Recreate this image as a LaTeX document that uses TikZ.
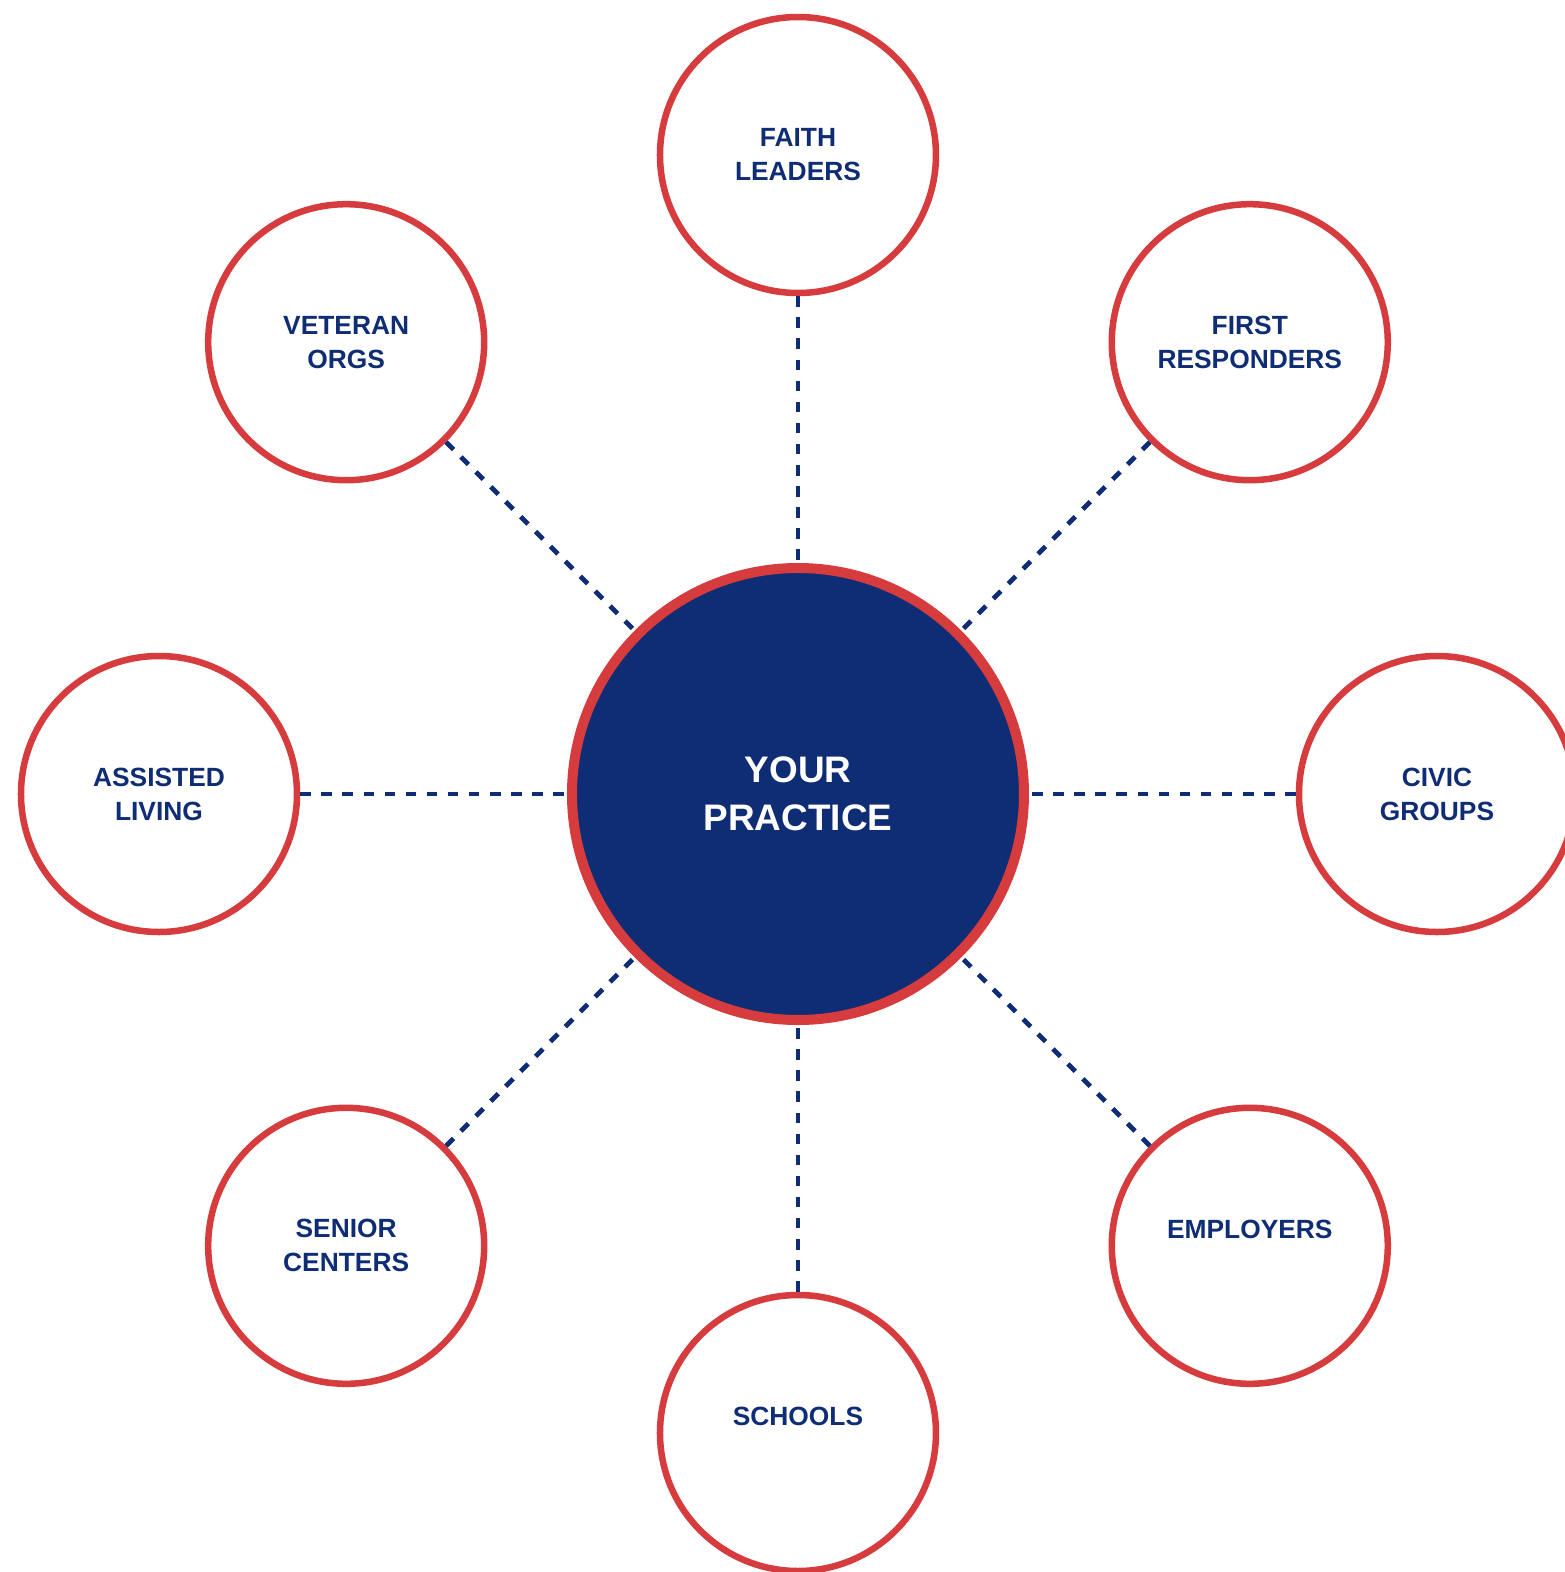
\documentclass[tikz,border=0pt]{standalone}
\usepackage{fontspec}
\setmainfont{Liberation Sans}
\usepackage{xcolor}
\definecolor{ringred}{HTML}{D63B3D}
\definecolor{navy}{HTML}{0F2D74}

\tikzset{
  partner/.style={circle, draw=ringred, line width=1.85pt, fill=white,
    minimum size=2.76cm, inner sep=0pt, align=center, text=navy,
    font=\fontsize{7.5}{9.67}\selectfont\bfseries},
  hub/.style={circle, draw=ringred, line width=2.85pt, fill=navy,
    minimum size=4.52cm, inner sep=0pt, align=center, text=white,
    font=\fontsize{10.5}{13.65}\selectfont\bfseries},
  link/.style={draw=navy, line width=1.4pt, dash pattern=on 3pt off 3pt}
}

\begin{document}
\begin{tikzpicture}[line cap=butt,line join=round,x=1.0cm,y=1.0cm]
\clip (-7.98,-7.78) rectangle (7.67,7.94);
% hub
\node[hub] (practice) at (0,0) {YOUR\\PRACTICE};
% partners round the hub
\node[partner] (faith) at (0,6.39) {FAITH\\LEADERS};
\node[partner] (first) at (4.518,4.518) {FIRST\\RESPONDERS};
\node[partner] (civic) at (6.39,0) {CIVIC\\GROUPS};
\node[partner] (employers) at (4.518,-4.518) {EMPLOYERS\\\phantom{E}};
\node[partner] (schools) at (0,-6.39) {SCHOOLS\\\phantom{S}};
\node[partner] (senior) at (-4.518,-4.518) {SENIOR\\CENTERS};
\node[partner] (assisted) at (-6.39,0) {ASSISTED\\LIVING};
\node[partner] (veteran) at (-4.518,4.518) {VETERAN\\ORGS};
% dashed links
\draw[link] (faith) -- (practice);
\draw[link] (first) -- (practice);
\draw[link] (civic) -- (practice);
\draw[link] (employers) -- (practice);
\draw[link] (schools) -- (practice);
\draw[link] (senior) -- (practice);
\draw[link] (assisted) -- (practice);
\draw[link] (veteran) -- (practice);
\end{tikzpicture}
\end{document}
